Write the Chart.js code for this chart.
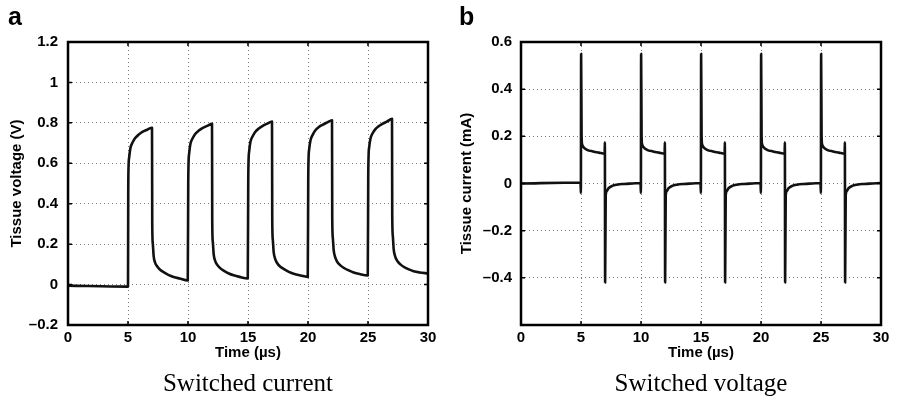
<!DOCTYPE html>
<html>
<head>
<meta charset="utf-8">
<script src="https://cdn.jsdelivr.net/npm/chart.js@4.4.1/dist/chart.umd.min.js"></script>
<style>
  html, body { margin:0; padding:0; background:#fff; }
  #wrap { position:relative; width:897px; height:401px; overflow:hidden; background:#fff; }
  canvas { position:absolute; top:0; }
  .letter { position:absolute; font-family:"Liberation Sans", Arial, sans-serif; font-weight:bold; font-size:25px; line-height:25px; color:#000; }
  .cap { position:absolute; font-family:"Liberation Serif", "Times New Roman", serif; font-size:25px; line-height:30px; color:#000; text-align:center; width:400px; }
</style>
</head>
<body>
<div id="wrap">
  <canvas id="cA" width="448" height="401" style="left:0px"></canvas>
  <canvas id="cB" width="449" height="401" style="left:448px"></canvas>
  <div class="letter" style="left:8px; top:4px;">a</div>
  <div class="letter" style="left:459px; top:4px;">b</div>
  <div class="cap" style="left:48px; top:368px;">Switched current</div>
  <div class="cap" style="left:501px; top:368px;">Switched voltage</div>
</div>
<script>
// ---------- data ----------
const xTicks = [0, 5, 10, 15, 20, 25, 30];
const xTickLabels = ['0', '5', '10', '15', '20', '25', '30'];

const yTicksA = [-0.2, 0, 0.2, 0.4, 0.6, 0.8, 1.0, 1.2];
const yTickLabelsA = ['\u20130.2', '0', '0.2', '0.4', '0.6', '0.8', '1', '1.2'];

const yTicksB = [-0.6, -0.4, -0.2, 0, 0.2, 0.4, 0.6];
const yTickLabelsB = ['', '\u20130.4', '\u20130.2', '0', '0.2', '0.4', '0.6'];

// Panel a: tissue voltage (V) vs time (µs)
const timeA = [
  0, 4.99,
  5.0, 5.02, 5.05, 5.1, 5.2, 5.4, 5.6, 5.9, 6.2, 6.6, 7.0,
  7.02, 7.07, 7.14, 7.25, 7.41, 7.7, 8.0, 8.4, 8.8, 9.3, 9.98,
  10.02, 10.05, 10.1, 10.2, 10.4, 10.6, 10.9, 11.2, 11.6, 12.0,
  12.02, 12.07, 12.14, 12.25, 12.41, 12.7, 13.0, 13.4, 13.8, 14.3, 14.98,
  15.02, 15.05, 15.1, 15.2, 15.4, 15.6, 15.9, 16.2, 16.6, 17.0,
  17.02, 17.07, 17.14, 17.25, 17.41, 17.7, 18.0, 18.4, 18.8, 19.3, 19.98,
  20.02, 20.05, 20.1, 20.2, 20.4, 20.6, 20.9, 21.2, 21.6, 22.0,
  22.02, 22.07, 22.14, 22.25, 22.41, 22.7, 23.0, 23.4, 23.8, 24.3, 24.98,
  25.02, 25.05, 25.1, 25.2, 25.4, 25.6, 25.9, 26.2, 26.6, 27.0,
  27.02, 27.07, 27.14, 27.25, 27.41, 27.7, 28.0, 28.4, 28.8, 29.3, 30.0
];
const voltageA = [
  -0.005, -0.01,
  -0.01, 0.45, 0.59, 0.63, 0.675, 0.705, 0.725, 0.742, 0.755, 0.766, 0.776,
  0.30, 0.20, 0.14, 0.11, 0.092, 0.072, 0.060, 0.047, 0.038, 0.030, 0.020,
  0.50, 0.61, 0.65, 0.695, 0.725, 0.745, 0.762, 0.774, 0.785, 0.795,
  0.31, 0.21, 0.15, 0.12, 0.100, 0.080, 0.068, 0.055, 0.046, 0.038, 0.030,
  0.51, 0.62, 0.66, 0.705, 0.735, 0.755, 0.772, 0.784, 0.796, 0.807,
  0.32, 0.22, 0.16, 0.13, 0.108, 0.088, 0.076, 0.063, 0.054, 0.046, 0.038,
  0.52, 0.63, 0.67, 0.712, 0.742, 0.762, 0.779, 0.790, 0.802, 0.813,
  0.33, 0.23, 0.17, 0.138, 0.115, 0.095, 0.082, 0.070, 0.060, 0.052, 0.045,
  0.53, 0.64, 0.68, 0.720, 0.750, 0.768, 0.784, 0.795, 0.807, 0.820,
  0.34, 0.24, 0.175, 0.142, 0.120, 0.100, 0.087, 0.075, 0.066, 0.060, 0.055
];

// Panel b: tissue current (mA) vs time (µs)
const timeB = [
  0, 4.96, 4.99,
  5.01, 5.05, 5.1, 5.2, 5.5, 6.0, 6.5, 6.97, 6.99,
  7.01, 7.06, 7.15, 7.3, 7.6, 8.0, 8.6, 9.3, 9.96, 9.99,
  10.01, 10.05, 10.1, 10.2, 10.5, 11.0, 11.5, 11.97, 11.99,
  12.01, 12.06, 12.15, 12.3, 12.6, 13.0, 13.6, 14.3, 14.96, 14.99,
  15.01, 15.05, 15.1, 15.2, 15.5, 16.0, 16.5, 16.97, 16.99,
  17.01, 17.06, 17.15, 17.3, 17.6, 18.0, 18.6, 19.3, 19.96, 19.99,
  20.01, 20.05, 20.1, 20.2, 20.5, 21.0, 21.5, 21.97, 21.99,
  22.01, 22.06, 22.15, 22.3, 22.6, 23.0, 23.6, 24.3, 24.96, 24.99,
  25.01, 25.05, 25.1, 25.2, 25.5, 26.0, 26.5, 26.97, 26.99,
  27.01, 27.06, 27.15, 27.3, 27.6, 28.0, 28.6, 29.3, 30.0
];
const currentB = [
  0, 0.004, -0.04,
  0.55, 0.20, 0.165, 0.155, 0.143, 0.136, 0.131, 0.127, 0.175,
  -0.42, -0.05, -0.032, -0.02, -0.01, -0.005, -0.002, 0.0, 0.002, -0.04,
  0.55, 0.20, 0.165, 0.155, 0.143, 0.136, 0.131, 0.127, 0.175,
  -0.42, -0.05, -0.032, -0.02, -0.01, -0.005, -0.002, 0.0, 0.002, -0.04,
  0.55, 0.20, 0.165, 0.155, 0.143, 0.136, 0.131, 0.127, 0.175,
  -0.42, -0.05, -0.032, -0.02, -0.01, -0.005, -0.002, 0.0, 0.002, -0.04,
  0.55, 0.20, 0.165, 0.155, 0.143, 0.136, 0.131, 0.127, 0.175,
  -0.42, -0.05, -0.032, -0.02, -0.01, -0.005, -0.002, 0.0, 0.002, -0.04,
  0.55, 0.20, 0.165, 0.155, 0.143, 0.136, 0.131, 0.127, 0.175,
  -0.42, -0.05, -0.032, -0.02, -0.01, -0.005, -0.002, 0.0, 0.002
];

// ---------- rendering ----------
const FONT = '"Liberation Sans", Arial, Helvetica, sans-serif';
const tickFont = { family: FONT, size: 15, weight: 'bold', lineHeight: 1.2 };
const titleFont = { family: FONT, size: 15, weight: 'bold', lineHeight: 1.2 };

const boxPlugin = {
  id: 'matlabBox',
  afterDraw(chart) {
    const { ctx, chartArea: a, scales } = chart;
    ctx.save();
    ctx.strokeStyle = '#000';
    // inner tick marks
    ctx.lineWidth = 1.5;
    const L = 4;
    scales.x.ticks.forEach(t => {
      const px = scales.x.getPixelForValue(t.value);
      ctx.beginPath();
      ctx.moveTo(px, a.bottom); ctx.lineTo(px, a.bottom - L);
      ctx.moveTo(px, a.top); ctx.lineTo(px, a.top + L);
      ctx.stroke();
    });
    scales.y.ticks.forEach(t => {
      const py = scales.y.getPixelForValue(t.value);
      ctx.beginPath();
      ctx.moveTo(a.left, py); ctx.lineTo(a.left + L, py);
      ctx.moveTo(a.right, py); ctx.lineTo(a.right - L, py);
      ctx.stroke();
    });
    // box
    ctx.lineWidth = 2.5;
    ctx.strokeRect(a.left, a.top, a.right - a.left, a.bottom - a.top);
    ctx.restore();
  }
};

function makeChart(id, times, values, yTicks, yLabels, yMin, yMax, yTitle, yWidth, rightPad, titlePad, tickPad) {
  const pts = times.map((t, i) => ({ x: t, y: values[i] }));
  return new Chart(document.getElementById(id), {
    type: 'line',
    data: {
      datasets: [{
        data: pts,
        borderColor: '#111',
        borderWidth: 2.6,
        pointRadius: 0,
        fill: false,
        cubicInterpolationMode: 'monotone',
        borderJoinStyle: 'round',
        borderCapStyle: 'round'
      }]
    },
    options: {
      responsive: false,
      animation: false,
      devicePixelRatio: 1,
      layout: { padding: { left: 0, top: 42, right: rightPad, bottom: 36 } },
      plugins: { legend: { display: false }, tooltip: { enabled: false } },
      scales: {
        x: {
          type: 'linear', min: 0, max: 30,
          afterBuildTicks(s) { s.ticks = xTicks.map(v => ({ value: v })); },
          afterFit(s) { s.height = 40; },
          ticks: {
            font: tickFont, color: '#000', padding: 4, maxRotation: 0, autoSkip: false,
            callback: (v, i) => xTickLabels[i]
          },
          grid: { color: '#7a7a7a', lineWidth: 1, drawTicks: false },
          border: { display: false, dash: [1, 3] },
          title: { display: true, text: 'Time (\u00b5s)', font: titleFont, color: '#000', padding: { top: 0, bottom: 3 } }
        },
        y: {
          type: 'linear', min: yMin, max: yMax,
          afterBuildTicks(s) { s.ticks = yTicks.map(v => ({ value: v })); },
          afterFit(s) { s.width = yWidth; },
          ticks: {
            font: tickFont, color: '#000', padding: tickPad, autoSkip: false,
            callback: (v, i) => yLabels[i]
          },
          grid: { color: '#7a7a7a', lineWidth: 1, drawTicks: false },
          border: { display: false, dash: [1, 3] },
          title: { display: true, text: yTitle, font: titleFont, color: '#000', padding: { top: titlePad, bottom: 0 } }
        }
      }
    },
    plugins: [boxPlugin]
  });
}

makeChart('cA', timeA, voltageA, yTicksA, yTickLabelsA, -0.2, 1.2, 'Tissue voltage (V)', 68, 20, 8, 10);
makeChart('cB', timeB, currentB, yTicksB, yTickLabelsB, -0.6, 0.6, 'Tissue current (mA)', 73, 16, 10, 9);
</script>
</body>
</html>
